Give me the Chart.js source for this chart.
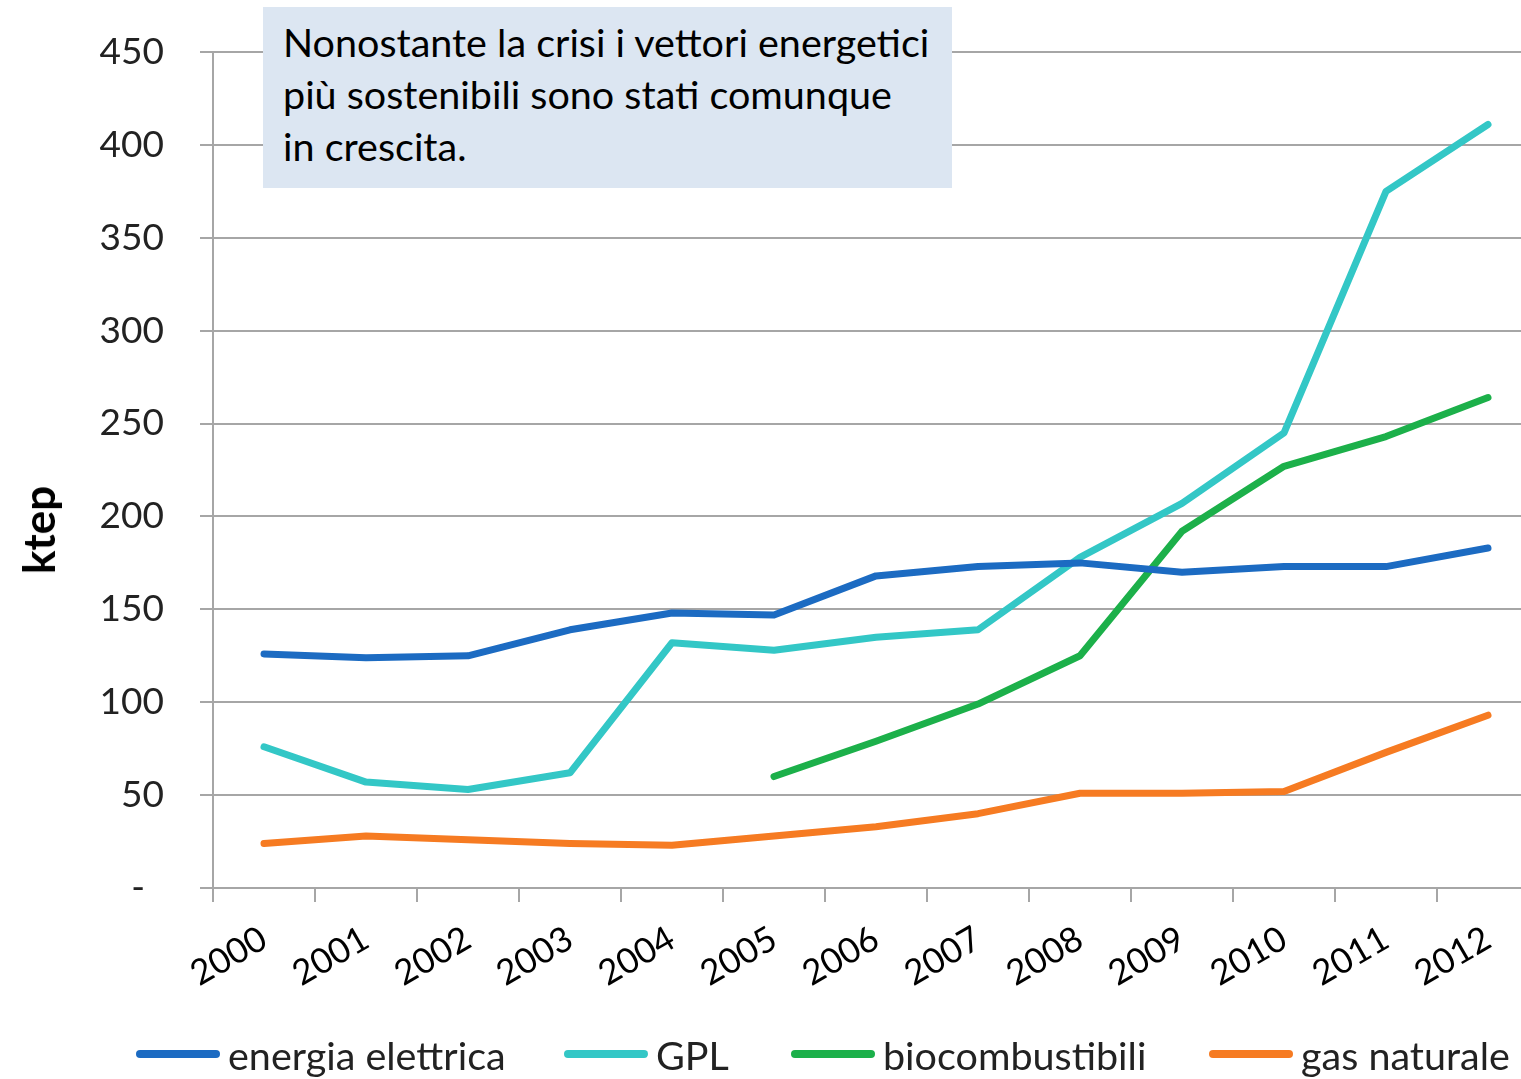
<!DOCTYPE html>
<html lang="it">
<head>
<meta charset="UTF-8">
<title>ktep</title>
<script src="https://cdn.jsdelivr.net/npm/chart.js"></script>
<style>
  html, body { margin: 0; padding: 0; background: #fff; overflow: hidden; }
  #wrap { position: relative; width: 1545px; height: 1079px; font-family: Lato, "Open Sans", sans-serif; }
  #note {
    position: absolute; left: 263px; top: 7px; width: 689px; height: 181px;
    background: #dce6f2; box-sizing: border-box; padding: 9px 0 0 20px;
    font-size: 39.5px; line-height: 52px; color: #000;
  }
  #ytitle {
    position: absolute; left: 38px; top: 530px; transform: translate(-50%, -50%) rotate(-90deg);
    font-size: 44px; font-weight: bold; color: #000; white-space: nowrap;
  }
  .lg { position: absolute; top: 1026px; height: 56px; display: flex; align-items: center;
        font-size: 39.5px; color: #222; white-space: nowrap; }
  .lg i { display: inline-block; width: 84px; height: 8px; border-radius: 4px; margin-right: 8px; }
</style>
</head>
<body>
<div id="wrap">
  <canvas id="chart" width="1545" height="1079"></canvas>
  <div id="note">Nonostante la crisi i vettori energetici<br>più sostenibili sono stati comunque<br>in crescita.</div>
  <div id="ytitle">ktep</div>
  <div id="legend"></div>
</div>
<script>
const years = ['2000','2001','2002','2003','2004','2005','2006','2007','2008','2009','2010','2011','2012'];
const seriesNames = ['energia elettrica', 'GPL', 'biocombustibili', 'gas naturale'];
const energiaElettrica = [126, 124, 125, 139, 148, 147, 168, 173, 175, 170, 173, 173, 183];
const gpl = [76, 57, 53, 62, 132, 128, 135, 139, 178, 207, 245, 375, 411];
const biocombustibili = [null, null, null, null, null, 60, 79, 99, 125, 192, 227, 243, 264];
const gasNaturale = [24, 28, 26, 24, 23, 28, 33, 40, 51, 51, 52, 73, 93];

const FONT = 'Lato, "Open Sans", sans-serif';
const GRID = '#a6a6a6';
const colors = ['#1c6bc2', '#33c7c6', '#1cb04a', '#f67b22'];
const legendLeft = [136, 564, 791, 1209];

function line(label, data, color) {
  return {
    label: label, data: data, borderColor: color, backgroundColor: color,
    borderWidth: 7, pointRadius: 0, tension: 0, spanGaps: false,
    borderCapStyle: 'round', borderJoinStyle: 'round'
  };
}

const allData = [energiaElettrica, gpl, biocombustibili, gasNaturale];

const chart = new Chart(document.getElementById('chart'), {
  type: 'line',
  data: {
    labels: years,
    datasets: seriesNames.map((n, i) => line(n, allData[i], colors[i]))
  },
  options: {
    responsive: false,
    animation: false,
    layout: { padding: { top: 52, right: 6, left: 0, bottom: 60 } },
    plugins: {
      tooltip: { enabled: false },
      legend: { display: false }
    },
    scales: {
      x: {
        offset: true,
        grid: { offset: true, drawOnChartArea: false, drawTicks: true, tickLength: 14, color: GRID, lineWidth: 2 },
        border: { color: GRID, width: 2 },
        ticks: {
          font: { family: FONT, size: 35 }, color: '#000',
          minRotation: 30, maxRotation: 30, padding: 16, autoSkip: false
        },
        afterFit: function (scale) { scale.height = 1079 - 888 - 60; }
      },
      y: {
        min: 0, max: 450,
        grid: { color: GRID, lineWidth: 2, tickLength: 13, drawTicks: true },
        border: { color: GRID, width: 2 },
        ticks: {
          stepSize: 50, padding: 36,
          font: { family: FONT, size: 37 }, color: '#222',
          callback: function (v) { return v === 0 ? '-  ' : v; }
        },
        afterFit: function (scale) {
          scale.width = 213;
          scale.paddingTop = 0;
          scale.paddingBottom = 0;
        }
      }
    }
  }
});

// legend built from the chart's own datasets
const legend = document.getElementById('legend');
chart.data.datasets.forEach((ds, i) => {
  const item = document.createElement('div');
  item.className = 'lg';
  item.style.left = legendLeft[i] + 'px';
  item.innerHTML = '<i style="background:' + ds.borderColor + '"></i><span>' + ds.label + '</span>';
  legend.appendChild(item);
});
</script>
</body>
</html>
